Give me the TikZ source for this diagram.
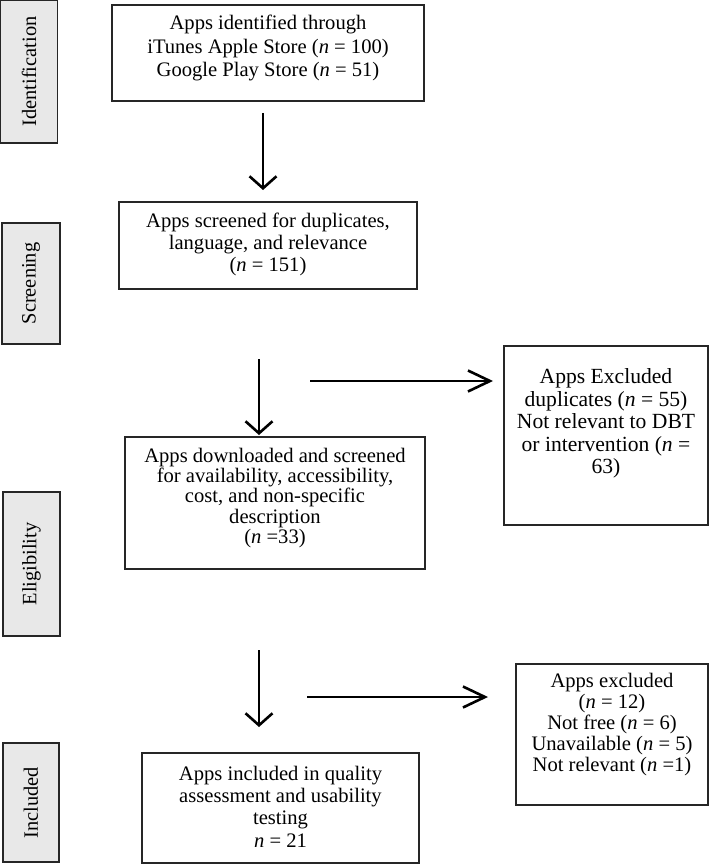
\documentclass[tikz,border=0pt]{standalone}
\usepackage{fontspec}
\setmainfont{Liberation Serif}
\usetikzlibrary{arrows.meta}
\tikzset{
  sidebox/.style={draw=black!85, line width=1.4pt, fill=black!9, rotate=90, inner sep=0pt, font=\fontsize{20.4}{24}\selectfont},
  mainbox/.style={draw=black!85, line width=1.4pt, inner sep=0pt},
  txt/.style={align=center, inner sep=0pt, font=\fontsize{20.6}{#1}\selectfont},
  txt/.default=23.5,
  bigtxt/.style={align=center, inner sep=0pt, font=\fontsize{21.6}{22.5}\selectfont},
  varrow/.style={line width=2.6pt, -{Straight Barb[length=12pt,width=27pt,line width=2.6pt]}},
  harrow/.style={line width=2.6pt, -{Straight Barb[length=22pt,width=21pt,line width=2.6pt]}}
}
\newcommand{\nn}{\textit{n}}
\begin{document}
\begin{tikzpicture}[x=1pt,y=-1pt]
\useasboundingbox (0,0) rectangle (709,864);
% side labels
\node[sidebox, minimum width=143pt, minimum height=57pt] (sid) at (29,71.5) {Identification};
\node[sidebox, minimum width=121pt, minimum height=58pt] (sscr) at (31,283.5) {Screening};
\node[sidebox, minimum width=144pt, minimum height=57pt] (selig) at (31.5,564) {Eligibility};
\node[sidebox, minimum width=119pt, minimum height=56pt] (sinc) at (31,802.5) {Included};
% main boxes
\node[mainbox, minimum width=312pt, minimum height=96pt] (b1) at (268,53) {};
\node[mainbox, minimum width=298pt, minimum height=87pt] (b2) at (268,245.5) {};
\node[mainbox, minimum width=300pt, minimum height=132pt] (b3) at (275,503) {};
\node[mainbox, minimum width=277pt, minimum height=110pt] (b4) at (280.5,808) {};
\node[mainbox, minimum width=204pt, minimum height=179pt] (b5) at (606,435.5) {};
\node[mainbox, minimum width=192pt, minimum height=141pt] (b6) at (612,734.5) {};
% texts
\node[txt] (t1) at (268,48) {Apps identified through\\iTunes Apple Store (\nn{} = 100)\\Google Play Store (\nn{} = 51)};
\node[txt=22] (t2) at (268,244) {Apps screened for duplicates,\\language, and relevance\\(\nn{} = 151)};
\node[txt=20.2] (t3) at (275,498) {Apps downloaded and screened\\for availability, accessibility,\\cost, and non-specific\\description\\(\nn{} =33)};
\node[txt=22.3] (t4) at (280.5,806.5) {Apps included in quality\\assessment and usability\\testing\\\nn{} = 21};
\node[bigtxt] (t5) at (606,423.5) {Apps Excluded\\duplicates (\nn{} = 55)\\Not relevant to DBT\\or intervention (\nn{} =\\63)};
\node[txt=21] (t6) at (612,724.5) {Apps excluded\\(\nn{} = 12)\\Not free (\nn{} = 6)\\Unavailable (\nn{} = 5)\\Not relevant (\nn{} =1)};
% arrow ends
\coordinate (a1s) at (263,113);
\coordinate (a1e) at (263,190);
\coordinate (a2s) at (259,359);
\coordinate (a2e) at (259,435);
\coordinate (a3s) at (259,650);
\coordinate (a3e) at (259,727);
\coordinate (h1s) at (310,381);
\coordinate (h1e) at (493,381);
\coordinate (h2s) at (307,697);
\coordinate (h2e) at (488,697);
\draw[varrow] (a1s) -- (a1e);
\draw[varrow] (a2s) -- (a2e);
\draw[varrow] (a3s) -- (a3e);
\draw[harrow] (h1s) -- (h1e);
\draw[harrow] (h2s) -- (h2e);
\end{tikzpicture}
\end{document}
